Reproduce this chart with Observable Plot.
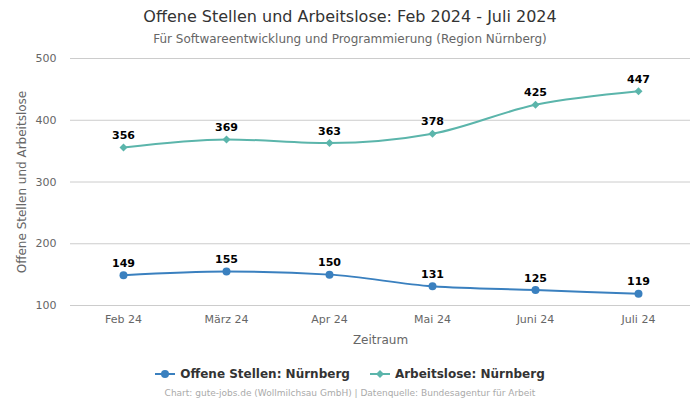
<!DOCTYPE html>
<html><head><meta charset="utf-8">
<script src="https://cdn.jsdelivr.net/npm/d3@7"></script>
<script src="https://cdn.jsdelivr.net/npm/@observablehq/plot@0.6"></script>
<style>
body{margin:0;background:#fff;font-family:"DejaVu Sans",sans-serif;width:700px;}
#title{text-align:center;font-size:16px;color:#333;margin-top:7px;height:20px;line-height:20px;}
#sub{text-align:center;font-size:12px;color:#666;height:18px;line-height:18px;margin-top:3px;}
#legend{display:flex;justify-content:center;gap:20px;font-size:12px;font-weight:bold;color:#333;margin-top:15px;height:18px;align-items:center;}
#legend span{display:flex;align-items:center;gap:5px;}
#cap{text-align:center;font-size:9px;color:#aaa;margin-top:5px;}
</style></head><body>
<div id="title">Offene Stellen und Arbeitslose: Feb 2024 - Juli 2024</div>
<div id="sub">Für Softwareentwicklung und Programmierung (Region Nürnberg)</div>
<div id="chart"></div>
<div id="legend"></div>
<div id="cap">Chart: gute-jobs.de (Wollmilchsau GmbH) | Datenquelle: Bundesagentur für Arbeit</div>
<script>
const months = ["Feb 24","März 24","Apr 24","Mai 24","Juni 24","Juli 24"];
const offeneStellen = [149,155,150,131,125,119];
const arbeitslose = [356,369,363,378,425,447];
const seriesNames = ["Offene Stellen: Nürnberg","Arbeitslose: Nürnberg"];
const colors = ["#3a80bf","#5bb5ab"];
const yTicks = [100,200,300,400,500];

const data = [];
months.forEach((m,i)=>{
  data.push({month:m, value:offeneStellen[i], series:seriesNames[0]});
  data.push({month:m, value:arbeitslose[i], series:seriesNames[1]});
});
const s0 = data.filter(d=>d.series===seriesNames[0]);
const s1 = data.filter(d=>d.series===seriesNames[1]);

const chart = Plot.plot({
  width:700, height:302,
  marginTop:10, marginBottom:45, marginLeft:70, marginRight:10,
  style:{fontFamily:"DejaVu Sans, sans-serif", fontSize:"11px", color:"#666", background:"#fff"},
  x:{type:"point", domain:months, padding:0.5, label:"Zeitraum", labelAnchor:"center", labelArrow:"none", tickSize:0, tickPadding:10, labelOffset:38},
  y:{domain:[100,500], ticks:yTicks, label:"Offene Stellen und Arbeitslose", labelAnchor:"center", labelArrow:"none", tickSize:0, tickPadding:14, labelOffset:53},
  marks:[
    Plot.gridY(yTicks,{stroke:"#ccc", strokeOpacity:1}),
    Plot.line(s0,{x:"month", y:"value", stroke:colors[0], strokeWidth:2, curve:"monotone-x"}),
    Plot.line(s1,{x:"month", y:"value", stroke:colors[1], strokeWidth:2, curve:"monotone-x"}),
    Plot.dot(s0,{x:"month", y:"value", fill:colors[0], r:4, symbol:"circle"}),
    Plot.dot(s1,{x:"month", y:"value", fill:colors[1], r:3.2, symbol:"square", rotate:45}),
    Plot.text(data,{x:"month", y:"value", text:d=>String(d.value), dy:-12, fill:"#000", fontWeight:"bold", fontSize:11})
  ]
});
chart.querySelectorAll("[aria-label='x-axis label'] text, [aria-label='y-axis label'] text").forEach(t=>{t.style.fontSize="12px";});
chart.querySelectorAll("[aria-label='x-axis tick label'] text, [aria-label='y-axis tick label'] text").forEach(t=>{t.setAttribute("fill","#666");});
document.getElementById("chart").appendChild(chart);

const leg = document.getElementById("legend");
seriesNames.forEach((n,i)=>{
  const sp = document.createElement("span");
  const shape = i===0
    ? `<svg width="20" height="10"><line x1="0" y1="5" x2="20" y2="5" stroke="${colors[i]}" stroke-width="2"/><circle cx="10" cy="5" r="4" fill="${colors[i]}"/></svg>`
    : `<svg width="20" height="10"><line x1="0" y1="5" x2="20" y2="5" stroke="${colors[i]}" stroke-width="2"/><path d="M10,1L14,5L10,9L6,5Z" fill="${colors[i]}"/></svg>`;
  sp.innerHTML = shape + `<span>${n}</span>`;
  leg.appendChild(sp);
});
</script>
</body></html>
